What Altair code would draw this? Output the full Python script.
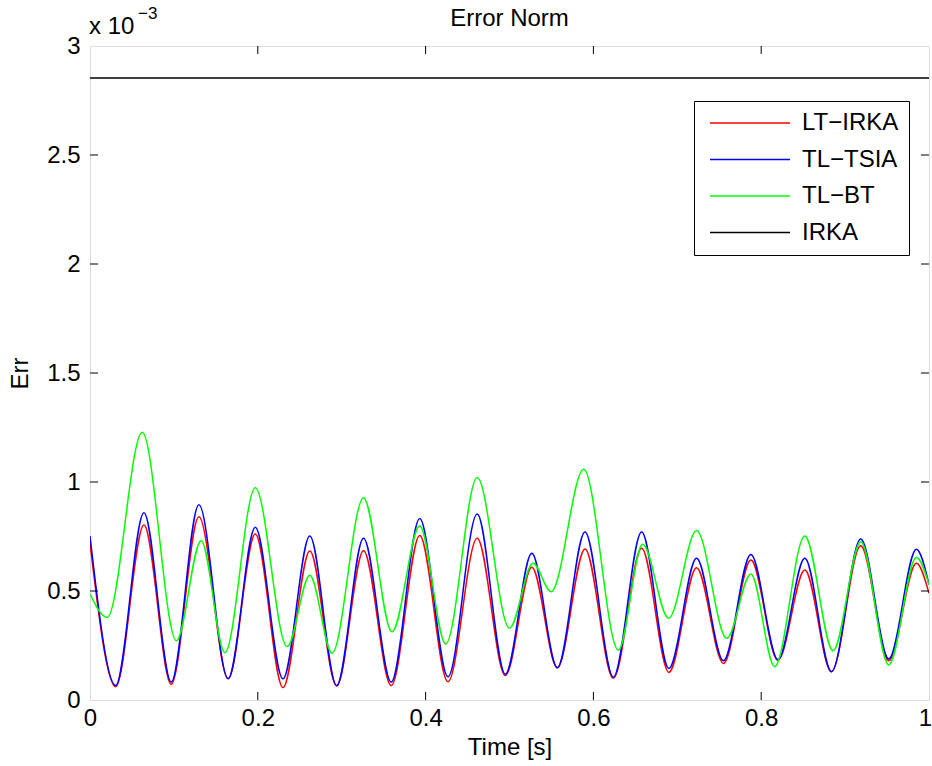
import altair as alt
import pandas as pd

# ---- data (values in units of 1e-3) ----
t_lt = [0.000, 0.0306, 0.0643, 0.0968, 0.1298, 0.1647, 0.197, 0.230, 0.262, 0.294,
        0.326, 0.359, 0.393, 0.4266, 0.4615, 0.495, 0.5266, 0.557, 0.590, 0.6238,
        0.6575, 0.690, 0.723, 0.755, 0.7877, 0.820, 0.852, 0.8837, 0.9187, 0.952,
        0.985, 1.000]
v_lt = [0.719, 0.061, 0.803, 0.072, 0.841, 0.097, 0.761, 0.057, 0.683, 0.064,
        0.685, 0.066, 0.755, 0.084, 0.742, 0.112, 0.609, 0.148, 0.693, 0.100,
        0.696, 0.127, 0.607, 0.168, 0.642, 0.183, 0.596, 0.130, 0.708, 0.180,
        0.627, 0.490]

t_ts = t_lt
v_ts = [0.752, 0.066, 0.859, 0.082, 0.896, 0.099, 0.792, 0.097, 0.752, 0.066,
        0.742, 0.082, 0.832, 0.107, 0.853, 0.118, 0.673, 0.148, 0.771, 0.105,
        0.771, 0.145, 0.650, 0.180, 0.668, 0.185, 0.650, 0.130, 0.739, 0.188,
        0.691, 0.530]

t_bt = [0.000, 0.0206, 0.0623, 0.103, 0.1325, 0.1607, 0.197, 0.235, 0.262, 0.2885,
        0.326, 0.360, 0.393, 0.424, 0.4615, 0.500, 0.528, 0.5496, 0.5885, 0.6298,
        0.6587, 0.6897, 0.723, 0.759, 0.7877, 0.816, 0.852, 0.8857, 0.9187, 0.952,
        0.985, 1.000]
v_bt = [0.486, 0.379, 1.228, 0.272, 0.731, 0.217, 0.974, 0.245, 0.572, 0.215,
        0.928, 0.313, 0.798, 0.257, 1.021, 0.329, 0.627, 0.497, 1.058, 0.229,
        0.714, 0.375, 0.777, 0.283, 0.578, 0.153, 0.752, 0.226, 0.726, 0.161,
        0.654, 0.530]

t_irka = [0.0, 1.0]
v_irka = [2.853, 2.853]

series_names = ["LT\u2212IRKA", "TL\u2212TSIA", "TL\u2212BT", "IRKA"]
series_colors = ["#ff0000", "#0000ff", "#00ff00", "#000000"]

x_ticks = [0, 0.2, 0.4, 0.6, 0.8, 1]
y_ticks = [0, 0.5, 1, 1.5, 2, 2.5, 3]
x_inner_ticks = [0.2, 0.4, 0.6, 0.8]
y_inner_ticks = [0.5, 1, 1.5, 2, 2.5]

rows = []
for name, ts, vs in zip(series_names, [t_lt, t_ts, t_bt, t_irka], [v_lt, v_ts, v_bt, v_irka]):
    for t, v in zip(ts, vs):
        rows.append({"series": name, "t": t, "v": v})
df = pd.DataFrame(rows)

W, H = 839, 654
FONT = "Liberation Sans"
FS = 24
TICK = 8

x_axis = alt.Axis(values=x_ticks, format="~g", title="Time [s]", ticks=False, domain=False,
                  grid=False, labelFontSize=FS, labelFont=FONT, labelColor="black",
                  labelFlush=False, labelPadding=6, titleFontSize=FS, titleFont=FONT,
                  labelOffset={"condition": {"test": "datum.value >= 1", "value": -4}, "value": 0},
                  titleFontWeight="normal", titleColor="black", titlePadding=5)
y_axis = alt.Axis(values=y_ticks, format="~g", title="Err", ticks=False, domain=False,
                  grid=False, labelFontSize=FS, labelFont=FONT, labelColor="black",
                  labelFlush=False, labelPadding=10, titleFontSize=FS, titleFont=FONT,
                  titleFontWeight="normal", titleColor="black", titlePadding=14)
x_scale = alt.Scale(domain=[0, 1], nice=False, zero=False)
y_scale = alt.Scale(domain=[0, 3], nice=False)

X = alt.X("t:Q", scale=x_scale, axis=x_axis)
Y = alt.Y("v:Q", scale=y_scale, axis=y_axis)

lines = alt.Chart(df).mark_line(strokeWidth=1.5, interpolate="monotone", clip=True).encode(
    x=X, y=Y,
    color=alt.Color("series:N",
                    scale=alt.Scale(domain=series_names, range=series_colors),
                    sort=series_names,
                    legend=alt.Legend(orient="none", legendX=604, legendY=55, title=None,
                                      symbolType="M-0.6,0H7.4", symbolSize=400,
                                      symbolStrokeWidth=1.5, labelFontSize=FS,
                                      labelFont=FONT, labelColor="black",
                                      labelOffset=74, strokeColor="black",
                                      fillColor="white", padding=10, rowPadding=12.5)),
    order=alt.Order("t:Q"),
)

xt = pd.DataFrame({"t": x_inner_ticks})
yt = pd.DataFrame({"v": y_inner_ticks})

bottom_ticks = alt.Chart(xt).mark_rule(color="black", strokeWidth=1).encode(
    x=X, y=alt.value(H), y2=alt.value(H - TICK))
top_ticks = alt.Chart(xt).mark_rule(color="black", strokeWidth=1).encode(
    x=X, y=alt.value(0), y2=alt.value(TICK))
left_ticks = alt.Chart(yt).mark_rule(color="black", strokeWidth=1).encode(
    y=Y, x=alt.value(0), x2=alt.value(TICK))
right_ticks = alt.Chart(yt).mark_rule(color="black", strokeWidth=1).encode(
    y=Y, x=alt.value(W), x2=alt.value(W - TICK))

title_txt = alt.Chart(pd.DataFrame({"txt": ["Error Norm"]})).mark_text(
    align="center", baseline="alphabetic", font=FONT, fontSize=FS, color="black").encode(
    text="txt:N", x=alt.value(W / 2), y=alt.value(-20))
mult = alt.Chart(pd.DataFrame({"txt": ["x 10"]})).mark_text(
    align="left", baseline="alphabetic", font=FONT, fontSize=FS, color="black").encode(
    text="txt:N", x=alt.value(-1), y=alt.value(-12))
expo = alt.Chart(pd.DataFrame({"txt": ["\u22123"]})).mark_text(
    align="left", baseline="alphabetic", font=FONT, fontSize=17, color="black").encode(
    text="txt:N", x=alt.value(48), y=alt.value(-27))

chart = alt.layer(lines, bottom_ticks, top_ticks, left_ticks, right_ticks,
                  title_txt, mult, expo).properties(
    width=W, height=H,
    autosize=alt.AutoSizeParams(type="none"),
    padding={"left": 90, "top": 46, "right": 3, "bottom": 66},
).configure_view(stroke="black", strokeWidth=1).configure(background="white")

chart.save("out.html", embed_options={"renderer": "svg", "actions": False})
